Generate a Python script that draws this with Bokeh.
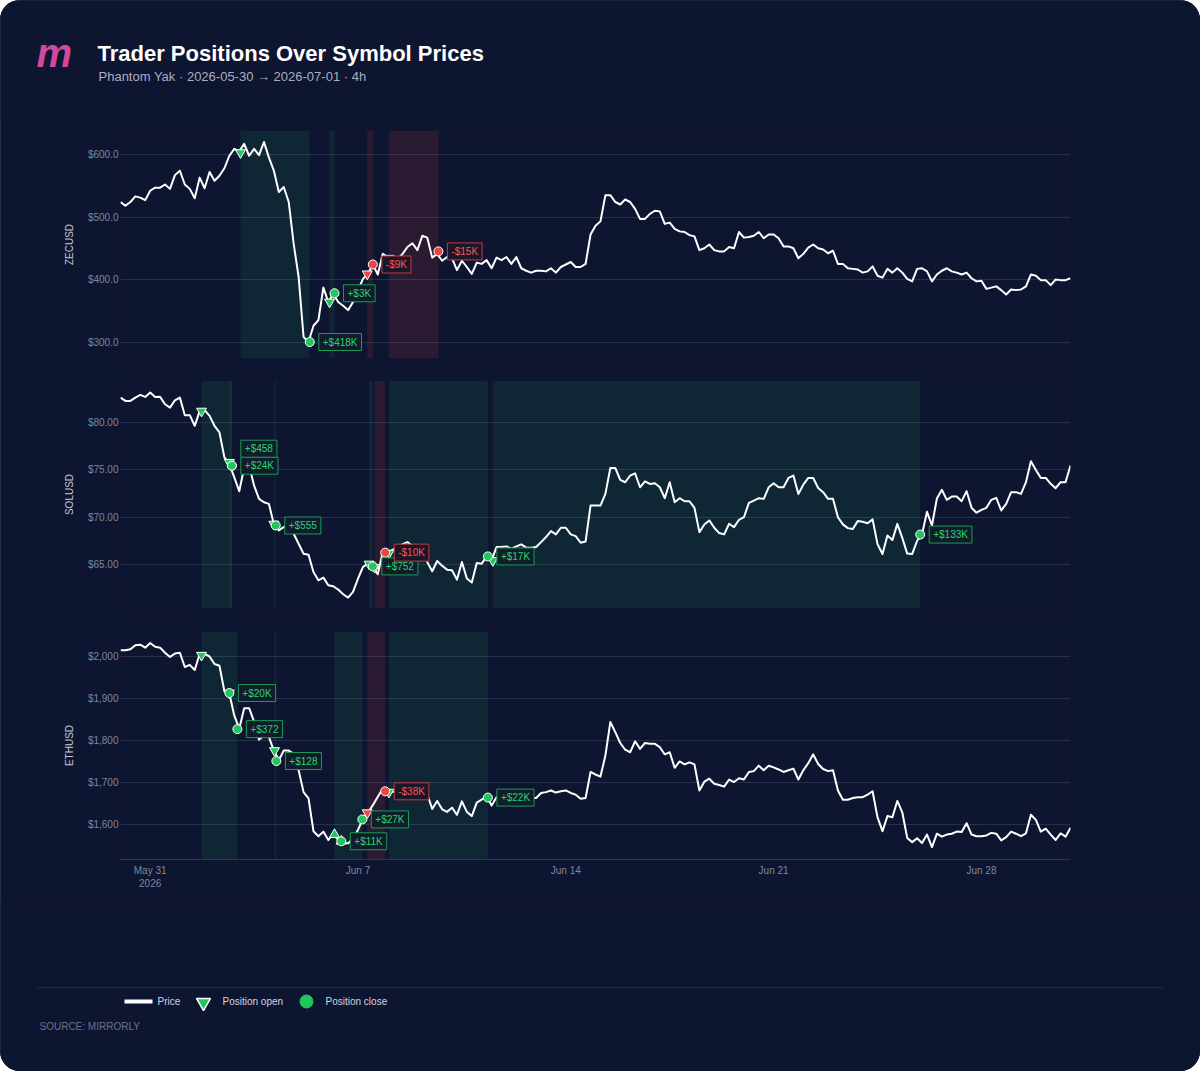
import numpy as np
import pandas as pd
from bokeh.plotting import figure
from bokeh.layouts import column
from bokeh.models import Range1d, FixedTicker, NumeralTickFormatter, ColumnDataSource
from bokeh.core.properties import value
from bokeh.embed import file_html
from bokeh.resources import INLINE

# ---------------- data ----------------
TITLE = "Trader Positions Over Symbol Prices"
SUBTITLE = "Phantom Yak · 2026-05-30 → 2026-07-01 · 4h"
SOURCE = "SOURCE: MIRRORLY"
START = "2026-05-30 00:00"
END = "2026-07-01 00:00"
STEP_HOURS = 4

zec_prices = [
    524, 518, 524, 533, 531, 527, 542, 547, 547, 552,
    545, 567, 574, 552, 545, 530, 563, 546, 572, 558,
    566, 578, 598, 609, 605, 617, 598, 609, 599, 620,
    595, 574, 540, 548, 524, 457, 404, 308, 300, 326,
    335, 387, 364, 377, 364, 358, 351, 364, 382, 401,
    409, 424, 408, 441, 436, 430, 432, 441, 452, 458,
    447, 470, 467, 435, 441, 430, 436, 434, 415, 430,
    420, 409, 427, 425, 431, 418, 435, 431, 436, 425,
    436, 418, 414, 411, 414, 414, 413, 418, 411, 420,
    424, 428, 420, 420, 425, 472, 486, 493, 535, 535,
    524, 520, 528, 524, 513, 497, 497, 505, 510, 509,
    489, 491, 481, 477, 476, 471, 469, 447, 450, 456,
    447, 445, 445, 452, 450, 476, 467, 468, 470, 476,
    466, 472, 472, 466, 453, 453, 450, 434, 441, 451,
    456, 450, 448, 442, 446, 425, 425, 418, 417, 416,
    411, 413, 421, 406, 403, 417, 411, 418, 411, 401,
    397, 417, 418, 413, 397, 408, 414, 418, 413, 411,
    408, 411, 402, 397, 398, 385, 387, 389, 383, 376,
    384, 383, 384, 389, 408, 406, 399, 399, 391, 400,
    399, 399, 402,
]

sol_prices = [
    82.62, 82.27, 82.27, 82.62, 82.90, 82.69, 83.15, 82.69, 82.70, 81.92,
    81.57, 82.34, 82.62, 80.77, 80.77, 79.65, 81.20, 81.30, 80.70, 79.65,
    78.95, 76.33, 75.63, 74.23, 72.76, 75.28, 75.45, 73.36, 71.96, 71.60,
    71.43, 69.27, 68.64, 69.00, 68.90, 68.29, 67.24, 66.19, 66.08, 64.27,
    63.39, 63.67, 62.87, 62.76, 62.41, 61.92, 61.57, 62.17, 63.57, 64.79,
    65.14, 64.79, 64.02, 66.36, 66.26, 66.60, 66.90, 67.20, 67.41, 67.00,
    66.80, 66.26, 65.30, 64.34, 65.42, 64.93, 64.51, 64.44, 63.46, 65.31,
    63.57, 63.15, 65.21, 65.14, 65.91, 65.50, 66.89, 66.90, 66.96, 66.71,
    66.96, 67.17, 66.82, 66.82, 66.89, 67.41, 67.94, 68.57, 68.22, 68.92,
    68.92, 68.22, 68.04, 67.34, 67.48, 71.26, 71.26, 71.26, 72.48, 75.21,
    75.21, 73.95, 73.71, 74.41, 74.65, 73.18, 73.81, 73.53, 73.60, 73.18,
    72.03, 73.71, 71.61, 72.03, 71.71, 71.71, 71.01, 68.46, 69.27, 69.69,
    68.92, 68.36, 68.22, 69.34, 68.99, 69.76, 70.03, 71.54, 71.78, 72.03,
    71.96, 73.18, 73.60, 73.18, 73.18, 74.16, 74.41, 72.48, 73.46, 74.16,
    74.16, 73.11, 72.66, 71.96, 71.96, 70.03, 69.27, 68.88, 68.78, 69.62,
    69.55, 69.40, 69.80, 67.20, 66.15, 68.10, 67.62, 69.33, 67.85, 66.20,
    66.15, 67.55, 68.25, 70.60, 69.16, 72.00, 72.92, 71.86, 72.20, 72.20,
    71.72, 72.77, 71.02, 70.50, 70.80, 71.02, 71.86, 72.07, 70.74, 71.44,
    72.67, 72.67, 72.49, 73.72, 75.92, 75.00, 74.17, 74.17, 73.54, 73.08,
    73.72, 73.72, 75.47,
]

eth_prices = [
    2015, 2015, 2017, 2027, 2028, 2021, 2032, 2023, 2021, 2009,
    1999, 2007, 2009, 1975, 1980, 1968, 2006, 2006, 2000, 1982,
    1978, 1917, 1912, 1859, 1828, 1877, 1877, 1845, 1802, 1812,
    1808, 1776, 1753, 1776, 1776, 1768, 1729, 1677, 1662, 1584,
    1572, 1583, 1563, 1579, 1563, 1557, 1555, 1567, 1587, 1614,
    1628, 1646, 1666, 1685, 1680, 1677, 1680, 1680, 1680, 1681,
    1681, 1680, 1672, 1637, 1656, 1636, 1630, 1640, 1623, 1655,
    1630, 1620, 1652, 1659, 1667, 1645, 1665, 1665, 1664, 1664,
    1664, 1664, 1664, 1663, 1663, 1675, 1677, 1681, 1676, 1679,
    1681, 1675, 1671, 1661, 1663, 1725, 1719, 1714, 1764, 1844,
    1820, 1794, 1778, 1772, 1798, 1780, 1794, 1792, 1792, 1784,
    1767, 1772, 1735, 1750, 1743, 1748, 1743, 1681, 1702, 1709,
    1697, 1694, 1690, 1707, 1701, 1710, 1707, 1725, 1727, 1740,
    1729, 1740, 1736, 1731, 1725, 1729, 1733, 1707, 1729, 1746,
    1767, 1744, 1732, 1727, 1729, 1681, 1659, 1659, 1663, 1665,
    1665, 1671, 1679, 1617, 1584, 1620, 1617, 1656, 1629, 1568,
    1558, 1567, 1556, 1576, 1546, 1578, 1571, 1576, 1578, 1583,
    1582, 1603, 1576, 1572, 1572, 1574, 1580, 1578, 1562, 1570,
    1583, 1578, 1572, 1579, 1623, 1611, 1583, 1590, 1576, 1563,
    1579, 1571, 1592,
]

# positions: open time, close time, open price, close price, side, pnl label
zec_open_t = ["2026-06-03 01:00", "2026-06-06 01:00", "2026-06-07 07:30", "2026-06-08 01:00"]
zec_close_t = ["2026-06-05 09:00", "2026-06-06 05:00", "2026-06-07 12:00", "2026-06-09 17:00"]
zec_open_p = [603, 364, 409, 434]
zec_close_p = [300, 378, 424, 445]
zec_side = ["short", "short", "short", "short"]
zec_pnl = ["+$418K", "+$3K", "-$9K", "-$15K"]

sol_open_t = ["2026-06-01 17:30", "2026-06-02 16:00", "2026-06-04 04:00", "2026-06-07 09:00",
              "2026-06-07 13:30", "2026-06-08 01:00", "2026-06-11 13:00"]
sol_close_t = ["2026-06-02 18:00", "2026-06-02 18:00", "2026-06-04 05:30", "2026-06-07 12:00",
               "2026-06-07 22:00", "2026-06-11 09:00", "2026-06-25 22:30"]
sol_open_p = [81.2, 75.8, 69.3, 65.1, 64.75, 66.25, 65.47]
sol_close_p = [75.45, 75.45, 69.16, 64.85, 66.3, 65.9, 68.2]
sol_side = ["short"] * 7
sol_pnl = ["+$24K", "+$458", "+$555", "+$752", "-$10K", "+$17K", "+$133K"]

eth_open_t = ["2026-06-01 17:30", "2026-06-02 16:00", "2026-06-04 04:30", "2026-06-06 05:00",
              "2026-06-06 10:30", "2026-06-07 07:30", "2026-06-08 01:00"]
eth_close_t = ["2026-06-02 16:00", "2026-06-02 22:30", "2026-06-04 06:00", "2026-06-06 10:30",
               "2026-06-07 03:30", "2026-06-07 22:00", "2026-06-11 09:00"]
eth_open_p = [2003, 1913, 1776, 1576, 1560, 1628, 1677]
eth_close_p = [1913, 1827, 1751, 1560, 1612, 1679, 1664]
eth_side = ["short", "short", "short", "long", "long", "short", "short"]
eth_pnl = ["+$20K", "+$372", "+$128", "+$11K", "+$27K", "-$38K", "+$22K"]

x_tick_dates = ["2026-05-31", "2026-06-07", "2026-06-14", "2026-06-21", "2026-06-28"]
x_tick_labels = ["May 31\n2026", "Jun 7", "Jun 14", "Jun 21", "Jun 28"]

zec_ticks = [300, 400, 500, 600]
sol_ticks = [65, 70, 75, 80]
eth_ticks = [1600, 1700, 1800, 1900, 2000]

legend_labels = ["Price", "Position open", "Position close"]

# ---------------- style ----------------
FONT = "Liberation Sans"
CARD = "#0e1530"
GRID = "#272f4c"
GREEN = "#22c55e"
RED = "#ef4444"
TICK_COL = "#7f869d"

t0 = pd.Timestamp(START)
t1 = pd.Timestamp(END)


def price_times(n):
    return t0 + pd.to_timedelta(np.arange(n) * STEP_HOURS, unit="h")


def make_panel(name, prices, yr, ticks, fmt, otimes, ctimes, oprices, cprices, sides, pnls,
               height, top, bottom, show_x):
    p = figure(width=1200, height=height, x_axis_type="datetime",
               x_range=Range1d(t0, t1), y_range=Range1d(*yr),
               output_backend="svg", toolbar_location=None, tools="",
               min_border_left=120, min_border_right=130,
               min_border_top=top, min_border_bottom=bottom,
               background_fill_color=CARD, border_fill_color=CARD,
               outline_line_color=None)
    ot = pd.to_datetime(otimes)
    ct = pd.to_datetime(ctimes)
    win = [s.startswith("+") for s in pnls]
    shade = ColumnDataSource(dict(
        left=ot, right=ct,
        color=[GREEN if w else RED for w in win],
        alpha=[0.10 if w else 0.13 for w in win]))
    p.quad(left="left", right="right", bottom=yr[0], top=yr[1], source=shade,
           fill_color="color", fill_alpha="alpha", line_color=None)

    p.line(price_times(len(prices)), prices, line_color="white", line_width=2,
           line_join="round")

    mk = ColumnDataSource(dict(
        x=ot, y=oprices,
        marker=["inverted_triangle" if s == "short" else "triangle" for s in sides],
        color=[GREEN if w else RED for w in win]))
    p.scatter(x="x", y="y", marker="marker", size=10, fill_color="color",
              line_color="white", line_width=1, source=mk)
    cm = ColumnDataSource(dict(x=ct, y=cprices, color=[GREEN if w else RED for w in win]))
    p.scatter(x="x", y="y", marker="circle", size=9, fill_color="color",
              line_color="white", line_width=1, source=cm)

    seen = {}
    yoff = []
    for c in ctimes:
        k = seen.get(c, 0)
        yoff.append(-17 * k)
        seen[c] = k + 1
    lab = ColumnDataSource(dict(
        x=ct, y=cprices, text=pnls, yoff=yoff,
        tcol=["#2fd06c" if w else "#f25a5a" for w in win],
        bcol=["#1e9a52" if w else "#c03a40" for w in win],
        fcol=["#0f1d2c" if w else "#1c1628" for w in win]))
    p.text(x="x", y="y", text="text", source=lab, x_offset=9, y_offset="yoff",
           text_align="left", text_baseline="middle",
           text_font=value(FONT), text_font_size="10px", text_color="tcol",
           background_fill_color="fcol", border_line_color="bcol", border_line_width=1,
           padding=dict(left=4, right=4, top=3, bottom=3))

    tk = FixedTicker(ticks=ticks)
    p.yaxis.ticker = tk
    p.ygrid.ticker = tk
    p.ygrid.grid_line_color = GRID
    p.ygrid.grid_line_width = 1
    p.xgrid.visible = False
    p.yaxis.formatter = NumeralTickFormatter(format=fmt)
    p.yaxis.axis_label = name
    p.yaxis.axis_label_text_font = FONT
    p.yaxis.axis_label_text_font_style = "normal"
    p.yaxis.axis_label_text_font_size = "10px"
    p.yaxis.axis_label_text_color = "#c4c8d4"
    p.yaxis.axis_label_standoff = 10
    p.yaxis.major_label_text_font = FONT
    p.yaxis.major_label_text_font_size = "10px"
    p.yaxis.major_label_text_color = TICK_COL
    p.yaxis.major_label_standoff = 2
    p.yaxis.axis_line_color = None
    p.yaxis.major_tick_line_color = None
    p.yaxis.minor_tick_line_color = None
    p.yaxis.major_tick_out = 0

    if show_x:
        xt = [pd.Timestamp(d).value / 1e6 for d in x_tick_dates]
        p.xaxis.ticker = FixedTicker(ticks=xt)
        p.xaxis.major_label_overrides = {v: l for v, l in zip(xt, x_tick_labels)}
        p.xaxis.major_label_text_font = FONT
        p.xaxis.major_label_text_font_size = "10px"
        p.xaxis.major_label_text_color = TICK_COL
        p.xaxis.major_label_standoff = 5
        p.xaxis.axis_line_color = "#2f3756"
        p.xaxis.major_tick_line_color = None
        p.xaxis.minor_tick_line_color = None
        p.xaxis.major_tick_out = 0
    else:
        p.xaxis.visible = False
    return p


def blank(height):
    p = figure(width=1200, height=height, x_range=Range1d(0, 1200), y_range=Range1d(height, 0),
               x_axis_type=None, y_axis_type=None, output_backend="svg",
               toolbar_location=None, tools="", min_border=0,
               min_border_left=0, min_border_right=0, min_border_top=0, min_border_bottom=0,
               background_fill_color=CARD, border_fill_color=CARD, outline_line_color=None,
               frame_align=False)
    return p


# header
hdr = blank(119)
hdr.text(x=[36], y=[52], text=["m"], text_font=value(FONT), text_font_size="40px",
         text_font_style="bold italic", text_color="#d4479a", text_baseline="middle")
hdr.text(x=[97], y=[53], text=[TITLE], text_font=value(FONT), text_font_size="22px",
         text_font_style="bold", text_color="#ffffff", text_baseline="middle")
hdr.text(x=[98], y=[75.5], text=[SUBTITLE], text_font=value(FONT), text_font_size="13px",
         text_color="#a9afc2", text_baseline="middle")

f_zec = make_panel("ZECUSD", zec_prices, (273.6, 638.4), zec_ticks, "$0.0",
                   zec_open_t, zec_close_t, zec_open_p, zec_close_p, zec_side, zec_pnl,
                   250, 11, 11, False)
f_sol = make_panel("SOLUSD", sol_prices, (60.42, 84.42), sol_ticks, "$0.00",
                   sol_open_t, sol_close_t, sol_open_p, sol_close_p, sol_side, sol_pnl,
                   251, 11, 12, False)
f_eth = make_panel("ETHUSD", eth_prices, (1516.6, 2059.5), eth_ticks, "$0,0",
                   eth_open_t, eth_close_t, eth_open_p, eth_close_p, eth_side, eth_pnl,
                   282, 11, 43, True)

# footer with legend
ftr = blank(169)
ftr.line([37, 1163], [85, 85], line_color="#232b47", line_width=1)
ftr.line([124, 152], [99, 99], line_color="white", line_width=4)
ftr.scatter([203], [100], marker="inverted_triangle", size=14, fill_color=GREEN,
            line_color="white", line_width=1.5)
ftr.scatter([306], [99], marker="circle", size=13, fill_color=GREEN,
            line_color=GREEN, line_width=1)
ftr.text(x=[157, 222, 325], y=[99, 99, 99], text=legend_labels,
         text_font=value(FONT), text_font_size="10px", text_color="#d3d6e0",
         text_baseline="middle")
ftr.text(x=[39], y=[124], text=[SOURCE], text_font=value(FONT), text_font_size="10px",
         text_color="#6c738e", text_baseline="middle")

layout = column(hdr, f_zec, f_sol, f_eth, ftr, spacing=0,
                styles={"border-radius": "20px", "overflow": "hidden",
                        "position": "relative", "background-color": CARD,
                        "outline": "1px solid #2c3555", "outline-offset": "-1px"})

open("out.html", "w").write(file_html(layout, INLINE))
